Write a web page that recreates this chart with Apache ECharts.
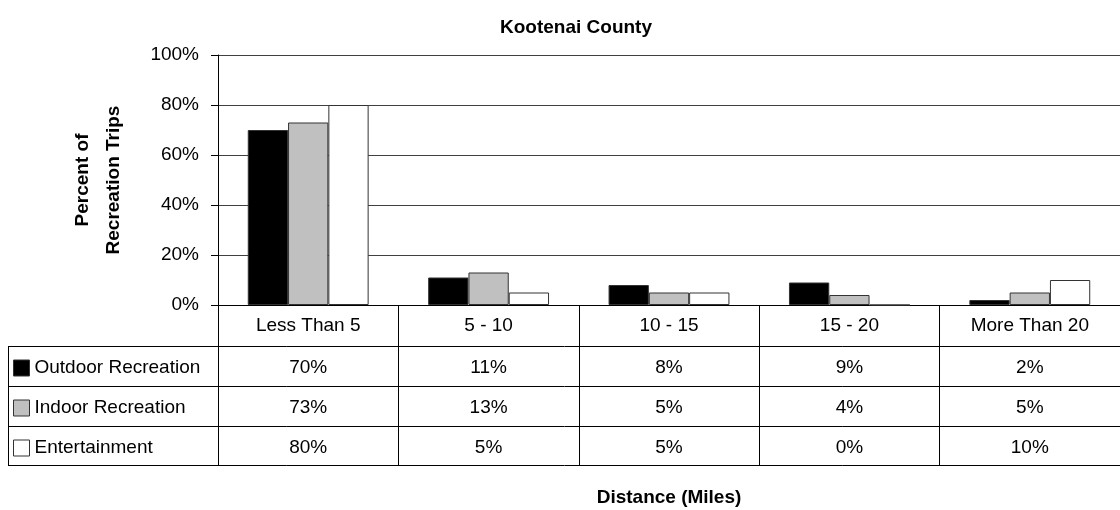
<!DOCTYPE html>
<html>
<head>
<meta charset="utf-8">
<title>Kootenai County</title>
<script src="https://cdn.jsdelivr.net/npm/echarts@6/dist/echarts.min.js"></script>
<style>
  html, body { margin: 0; padding: 0; background: #fff; }
  #chart { width: 1120px; height: 510px; }
</style>
</head>
<body>
<div id="chart"></div>
<script>
// Distance bands (miles) and share of recreation trips per activity type
const categories = ['Less Than 5', '5 - 10', '10 - 15', '15 - 20', 'More Than 20'];
const seriesNames = ['Outdoor Recreation', 'Indoor Recreation', 'Entertainment'];
const outdoor = [70, 11, 8, 9, 2];
const indoor = [73, 13, 5, 4, 5];
const entertainment = [80, 5, 5, 0, 10];
const yTicks = [0, 20, 40, 60, 80, 100];

const FONT = 'Liberation Sans, Arial, sans-serif';
const fills = ['#000000', '#c0c0c0', '#ffffff'];
const values = [outdoor, indoor, entertainment];

// table geometry (below the plot area)
const tableLeft = 8;
const rowLines = [346, 386, 426, 465];
const rowCenters = [368, 408, 448];

const chart = echarts.init(document.getElementById('chart'), null, { renderer: 'canvas' });

const option = {
  animation: false,
  backgroundColor: '#ffffff',
  textStyle: { fontFamily: FONT },
  title: {
    text: 'Kootenai County',
    left: 571,
    top: 13,
    textAlign: 'center',
    textStyle: { fontFamily: FONT, fontSize: 19, fontWeight: 'bold', color: '#000' }
  },
  grid: { left: 218, right: -3, top: 55, bottom: 205, containLabel: false },
  legend: {
    orient: 'vertical',
    left: 13,
    top: 358,
    padding: 0,
    itemWidth: 16,
    itemHeight: 16,
    itemGap: 20,
    icon: 'rect',
    selectedMode: false,
    data: seriesNames,
    itemStyle: { borderWidth: 1, borderColor: '#333333' },
    textStyle: { fontFamily: FONT, fontSize: 19, color: '#000', lineHeight: 20, padding: [0, 0, 0, 0] }
  },
  xAxis: {
    type: 'category',
    data: categories,
    name: 'Distance (Miles)',
    nameLocation: 'middle',
    nameGap: 183,
    nameTextStyle: { fontFamily: FONT, fontSize: 19, fontWeight: 'bold', color: '#000' },
    axisLine: { show: true, lineStyle: { color: '#000', width: 1 } },
    axisTick: { show: true, inside: false, length: 160, alignWithLabel: false, lineStyle: { color: '#000', width: 1 } },
    axisLabel: { margin: 11, fontFamily: FONT, fontSize: 19, color: '#000' },
    splitLine: { show: false }
  },
  yAxis: {
    type: 'value',
    min: yTicks[0],
    max: yTicks[yTicks.length - 1],
    interval: yTicks[1] - yTicks[0],
    name: 'Percent of\nRecreation Trips',
    nameLocation: 'middle',
    nameRotate: 90,
    nameGap: 89,
    nameTextStyle: { fontFamily: FONT, fontSize: 19, fontWeight: 'bold', color: '#000', lineHeight: 31, align: 'center' },
    axisLine: { show: true, lineStyle: { color: '#000', width: 1 } },
    axisTick: { show: true, inside: false, length: 7, lineStyle: { color: '#000', width: 1 } },
    axisLabel: { margin: 19, fontFamily: FONT, fontSize: 19, color: '#000', formatter: '{value}%' },
    splitLine: { show: true, lineStyle: { color: '#404040', width: 1 } }
  },
  series: seriesNames.map((name, i) => ({
    name: name,
    type: 'bar',
    data: values[i],
    barGap: '0%',
    barCategoryGap: '33%',
    itemStyle: { color: fills[i], borderColor: '#333333', borderWidth: 1 },
    emphasis: { disabled: true }
  }))
};

chart.setOption(option);

// Data table: row rules, left border and the value cells placed on the category scale
function buildTable() {
  const graphics = [];
  const plotRight = 1120 + 3;
  rowLines.forEach((y) => {
    graphics.push({
      type: 'line',
      silent: true,
      shape: { x1: tableLeft, y1: y + 0.5, x2: plotRight, y2: y + 0.5 },
      style: { stroke: '#000', lineWidth: 1 }
    });
  });
  graphics.push({
    type: 'line',
    silent: true,
    shape: { x1: tableLeft + 0.5, y1: rowLines[0], x2: tableLeft + 0.5, y2: rowLines[rowLines.length - 1] + 1 },
    style: { stroke: '#000', lineWidth: 1 }
  });
  values.forEach((vals, r) => {
    vals.forEach((v, c) => {
      const x = chart.convertToPixel({ xAxisIndex: 0 }, c);
      graphics.push({
        type: 'text',
        silent: true,
        x: x,
        y: rowCenters[r],
        style: {
          text: v + '%',
          fontFamily: FONT,
          fontSize: 19,
          fill: '#000',
          align: 'center',
          verticalAlign: 'middle'
        }
      });
    });
  });
  chart.setOption({ graphic: graphics });
}
buildTable();
</script>
</body>
</html>
